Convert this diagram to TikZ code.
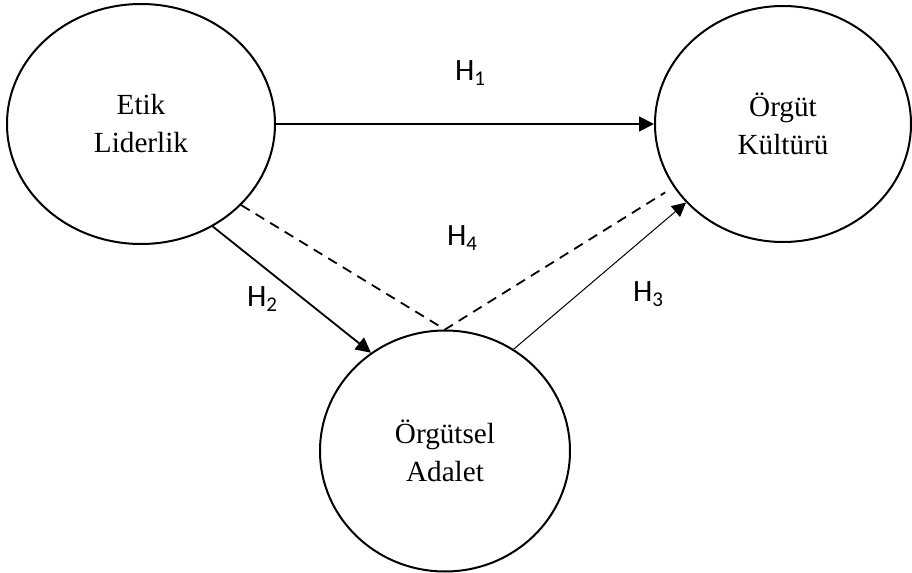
\documentclass[tikz,border=0pt]{standalone}
\usepackage{fontspec}
\setmainfont{Liberation Serif}
\newfontfamily\hfont{Carlito}
\usetikzlibrary{arrows.meta,shapes.geometric}
\newcommand{\hsub}[1]{\raisebox{-0.14em}{\fontsize{10.5}{12}\selectfont #1}}

\begin{document}
\begin{tikzpicture}[x=0.5pt,y=-0.5pt,
  konstrukt/.style={draw,ellipse,line width=1pt,inner sep=0pt,align=center,
    font=\fontsize{14.6}{19}\selectfont},
  hyp/.style={font=\hfont\fontsize{15.5}{18}\selectfont},
  ok/.style={-{Triangle[length=7.5pt,width=7.5pt]},line width=0.9pt}]
\useasboundingbox (0,0) rectangle (912,573);
\node[konstrukt,minimum width=134pt,minimum height=120pt] (etik) at (141,124) {Etik\\Liderlik};
\node[konstrukt,minimum width=128pt,minimum height=118pt] (kultur) at (783,124) {Örgüt\\Kültürü};
\node[konstrukt,minimum width=125pt,minimum height=120.5pt] (adalet) at (445,451) {Örgütsel\\Adalet};
% hipotezler
\draw[ok] (etik.east) -- (kultur.west);
\draw[ok] (etik.-55) -- (adalet.127);
\draw[-{Triangle[length=7pt,width=7pt]},line width=0.5pt] (adalet.56) -- (kultur.219);
\draw[dash pattern=on 5pt off 3.5pt,line width=0.9pt,shorten >=5pt] (etik.-39) -- (adalet.north) -- (kultur.210);
\node[hyp] (h1) at (470,73) {H\hsub{1}};
\node[hyp] (h2) at (262,299) {H\hsub{2}};
\node[hyp] (h3) at (648,294) {H\hsub{3}};
\node[hyp] (h4) at (462,238) {H\hsub{4}};
\end{tikzpicture}
\end{document}
